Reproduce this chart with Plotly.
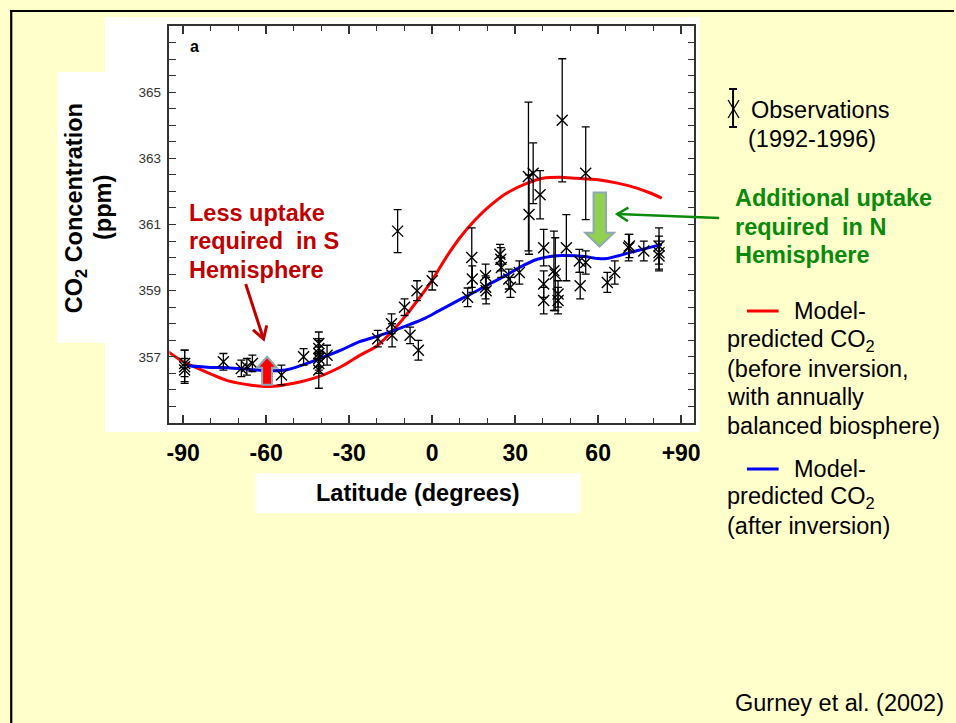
import math
import plotly.graph_objects as go

W, H = 956, 723
def px(x):
    return x / W
def py(y):
    return 1 - y / H

FONT = "Liberation Sans, Arial, sans-serif"
CREAM = "#FFFFCC"
DARKRED = "#C00000"
GREEN = "#0A8A0A"

# ---------------- data ----------------
obs_lat = [-89.5, -89.5, -89.5, -75.5, -69.0, -67.0, -65.0, -54.5, -46.5,
           -41.0, -41.0, -41.0, -41.0, -41.0, -41.0, -38.0,
           -19.7, -14.7, -14.5, -12.5, -10.0, -8.0, -5.5, -5.0, 0.0,
           12.8, 14.3, 14.5, 19.3, 19.3, 19.5, 24.5, 24.8, 25.0, 27.7, 28.3, 31.5,
           34.8, 35.0, 36.5, 39.0, 40.3, 40.3, 40.3, 44.0, 44.5, 45.5, 45.5,
           47.0, 48.5, 53.2, 53.5, 55.5, 55.5, 63.3, 66.0, 71.0, 71.3, 76.5,
           82.0, 82.0, 82.0]
obs_co2 = [356.8, 356.7, 356.6, 356.85, 356.65, 356.7, 356.8, 356.45, 357.0,
           357.4, 357.25, 357.1, 356.95, 356.8, 356.6, 357.05,
           357.55, 358.0, 357.65, 360.8, 358.5, 357.65, 359.0, 357.2, 359.3,
           358.8, 360.0, 359.35, 359.45, 359.1, 359.0, 360.1, 359.95, 359.7, 359.35, 359.1, 359.55,
           362.45, 361.3, 362.55, 361.9, 360.3, 359.2, 358.7, 359.6, 359.5, 358.9, 358.7,
           364.15, 360.3, 359.9, 359.15, 359.85, 362.55, 359.25, 359.55, 360.3, 360.35, 360.2,
           360.35, 360.15, 360.05]
obs_err = [0.4, 0.5, 0.35, 0.25, 0.25, 0.25, 0.25, 0.3, 0.25,
           0.35, 0.3, 0.4, 0.35, 0.3, 0.55, 0.3,
           0.25, 0.3, 0.35, 0.65, 0.25, 0.25, 0.3, 0.3, 0.28,
           0.28, 0.9, 0.4, 0.35, 0.35, 0.4, 0.3, 0.35, 0.3, 0.3, 0.3, 0.35,
           2.25, 1.2, 0.92, 0.73, 0.55, 0.4, 0.4, 1.2, 1.1, 0.4, 0.4,
           1.86, 1.0, 0.35, 0.4, 0.35, 1.4, 0.3, 0.35, 0.4, 0.35, 0.3,
           0.55, 0.5, 0.45]

red_lat = [-97, -90, -86, -80, -74, -66, -59, -50, -41, -33, -26.5, -20, -14.7,
           -10, -5, 0, 5, 10, 14, 20, 27, 34.4, 40, 46, 52, 60, 67, 74, 78.6, 83]
red_co2 = [357.25, 356.85, 356.7, 356.48, 356.28, 356.15, 356.1, 356.2, 356.4,
           356.7, 357.03, 357.33, 357.75, 358.2, 358.74, 359.32, 360.0, 360.6,
           361.0, 361.5, 361.95, 362.25, 362.4, 362.43, 362.4, 362.35, 362.25,
           362.1, 361.96, 361.8]

blue_lat = [-88.5, -80, -74, -66, -59, -53, -47, -41, -33, -26.5, -20, -14.7,
            -8, -2.5, 2.2, 9.3, 14, 20, 26, 32, 38, 44, 48, 55, 60, 63, 67,
            71.4, 77, 83]
blue_co2 = [356.73, 356.68, 356.67, 356.62, 356.58, 356.6, 356.75, 356.94,
            357.2, 357.45, 357.62, 357.77, 357.98, 358.17, 358.38, 358.7,
            358.9, 359.17, 359.43, 359.72, 359.95, 360.05, 360.06, 360.03,
            359.97, 359.97, 360.05, 360.15, 360.27, 360.4]

x_tickvals = [-90, -60, -30, 0, 30, 60, 90]
x_ticktext = ["-90", "-60", "-30", "0", "30", "60", "+90"]
y_tickvals = [357, 359, 361, 363, 365]

# ---------------- figure ----------------
fig = go.Figure()

fig.add_trace(go.Scatter(
    x=red_lat, y=red_co2, mode="lines",
    line=dict(color="#FF0000", width=3, shape="spline", smoothing=0.8),
    hoverinfo="skip", showlegend=False))
fig.add_trace(go.Scatter(
    x=blue_lat, y=blue_co2, mode="lines",
    line=dict(color="#0000FF", width=3, shape="spline", smoothing=0.8),
    hoverinfo="skip", showlegend=False))
fig.add_trace(go.Scatter(
    x=obs_lat, y=obs_co2, mode="markers",
    marker=dict(symbol="x-thin", size=11, line=dict(color="black", width=1.4)),
    error_y=dict(type="data", array=obs_err, visible=True,
                 color="black", thickness=1.3, width=4),
    showlegend=False))

fig.update_xaxes(
    range=[-95, 94.8], domain=[px(168), px(698)],
    tickmode="array", tickvals=x_tickvals,
    ticktext=["<b>%s</b>" % t for t in x_ticktext],
    tickfont=dict(family=FONT, size=23, color="black"),
    ticks="inside", ticklen=8, tickwidth=1.5, tickcolor="#333",
    minor=dict(dtick=10, tick0=0, ticks="inside", ticklen=5,
               tickwidth=1.2, tickcolor="#333"),
    showline=True, linecolor="#333", linewidth=1.5, mirror="ticks",
    showgrid=False, zeroline=False, ticklabelstandoff=9)
fig.update_yaxes(
    range=[355, 367], domain=[py(423), py(26)],
    tickmode="array", tickvals=y_tickvals,
    tickfont=dict(family=FONT, size=13.5, color="#333"),
    ticks="inside", ticklen=7, tickwidth=1.3, tickcolor="#333",
    minor=dict(dtick=0.5, tick0=355, ticks="inside", ticklen=7,
               tickwidth=1.3, tickcolor="#333"),
    showline=True, linecolor="#333", linewidth=1.5, mirror="ticks",
    showgrid=False, zeroline=False, ticklabelstandoff=4)

shapes = []
def pline(a, b, c, d, color, width):
    shapes.append(dict(type="line", xref="paper", yref="paper",
                       x0=px(a), x1=px(c), y0=py(b), y1=py(d),
                       line=dict(color=color, width=width)))

# white picture areas
shapes.append(dict(type="rect", xref="paper", yref="paper", layer="below",
                   x0=px(103), x1=px(703), y0=py(432), y1=py(17),
                   fillcolor="white", line=dict(width=0)))
shapes.append(dict(type="rect", xref="paper", yref="paper", layer="below",
                   x0=px(55), x1=px(104), y0=py(343), y1=py(72),
                   fillcolor="white", line=dict(width=0)))
shapes.append(dict(type="rect", xref="paper", yref="paper", layer="below",
                   x0=px(255), x1=px(583), y0=py(513), y1=py(473),
                   fillcolor="white", line=dict(width=0)))
# slide border (top & left)
pline(7, 11, 960, 11, "black", 2.2)
pline(8.3, 10, 8.3, 730, "black", 2.2)

# block arrows (data coords)
def lat(p):
    return (p - 434) / 2.789
def co2(p):
    return 357 + (358 - p) / 33.25

g = [(596.7, 192.7), (609.3, 192.7), (609.3, 233.3), (617.3, 233.3),
     (602.7, 247.3), (588.3, 233.3), (596.7, 233.3)]
path = "M " + " L ".join("%.3f,%.3f" % (lat(a), co2(b)) for a, b in g) + " Z"
shapes.append(dict(type="path", xref="x", yref="y", path=path,
                   fillcolor="#92D050", line=dict(color="#8FA9B3", width=2)))
r = [(262.5, 386), (272.5, 386), (272.5, 369), (277.5, 369), (267.5, 358),
     (257.5, 369), (262.5, 369)]
path = "M " + " L ".join("%.3f,%.3f" % (lat(a), co2(b)) for a, b in r) + " Z"
shapes.append(dict(type="path", xref="x", yref="y", path=path,
                   fillcolor="#FF0000", line=dict(color="#8FA9B3", width=2)))

# pointing arrows (open V heads)
def arrow(tx, ty, hx, hy, color, width, head=12):
    pline(tx, ty, hx, hy, color, width)
    dx, dy = hx - tx, hy - ty
    L = math.hypot(dx, dy)
    ux, uy = dx / L, dy / L
    pts = []
    for ang in (0.55, -0.55):
        c, s = math.cos(ang), math.sin(ang)
        bx = -(ux * c - uy * s) * head
        by = -(ux * s + uy * c) * head
        pts.append((hx + bx, hy + by))
    p = "M %.5f,%.5f L %.5f,%.5f L %.5f,%.5f" % (
        px(pts[0][0]), py(pts[0][1]), px(hx), py(hy), px(pts[1][0]), py(pts[1][1]))
    shapes.append(dict(type="path", xref="paper", yref="paper", path=p,
                       line=dict(color=color, width=width)))

arrow(245, 284, 263, 339, DARKRED, 3, head=14)
arrow(723, 218, 620, 214, GREEN, 2.5, head=13)

# legend marks
pline(751, 311, 783, 311, "#FF0000", 3)
pline(751, 469, 783, 469, "#0000FF", 3)
pline(737, 89, 737, 127, "black", 2)
pline(733, 89, 741, 89, "black", 2)
pline(733, 127, 741, 127, "black", 2)
pline(732, 100, 743, 118, "black", 1.3)
pline(743, 100, 732, 118, "black", 1.3)

ann = []
def text(x, y, s, size=23.5, color="black", bold=False, anchor="left", angle=0):
    ann.append(dict(xref="paper", yref="paper", x=px(x), y=py(y),
                    text=("<b>%s</b>" % s) if bold else s, showarrow=False,
                    xanchor=anchor, yanchor="middle", textangle=angle,
                    font=dict(family=FONT, size=size, color=color)))

text(193, 47, "a", size=16, bold=True, anchor="center")
text(74, 208, "CO<sub>2</sub> Concentration", bold=True, anchor="center", angle=-90)
text(101, 208, "(ppm)", bold=True, anchor="center", angle=-90)
text(419, 493, "Latitude (degrees)", bold=True, anchor="center")

NB = "\u00a0"
for i, s in enumerate(["Less uptake", "required" + NB + NB + "in S", "Hemisphere"]):
    text(186, 213 + i * 28.5, s, color=DARKRED, bold=True)
for i, s in enumerate(["Additional uptake", "required" + NB + NB + "in N", "Hemisphere"]):
    text(737, 198 + i * 28.5, s, color=GREEN, bold=True)

text(753, 110, "Observations")
text(750, 139, "(1992-1996)")
text(796, 311, "Model-")
for i, s in enumerate(["predicted CO<sub>2</sub>", "(before inversion,",
                       "with annually", "balanced biosphere)"]):
    text(729, 340 + i * 28.5, s)
text(796, 469, "Model-")
for i, s in enumerate(["predicted CO<sub>2</sub>", "(after inversion)"]):
    text(729, 497 + i * 28.5, s)
text(737, 703, "Gurney et al. (2002)")

fig.update_layout(
    width=W, height=H, margin=dict(l=0, r=0, t=0, b=0),
    paper_bgcolor=CREAM, plot_bgcolor="rgba(0,0,0,0)",
    shapes=shapes, annotations=ann, showlegend=False,
    font=dict(family=FONT))

fig.write_html(
    "out.html",
    config={"displayModeBar": False},
    post_script="document.body.style.margin='0';document.body.style.overflow='hidden';")
